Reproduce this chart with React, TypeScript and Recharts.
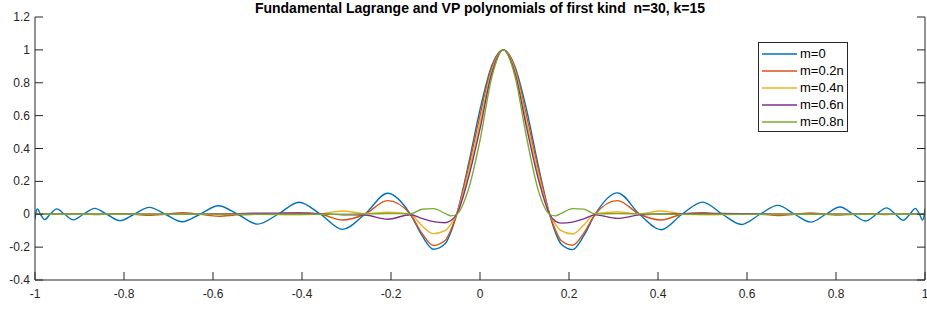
import React from "react";
import { LineChart, Line, XAxis, YAxis, Legend } from "recharts";

// x positions (Chebyshev nodes and the points between them)
const xs = [
  -1.0, -0.9986, -0.9945, -0.9877, -0.9781, -0.9659, -0.9511, -0.9336, -0.9135, -0.891,
  -0.866, -0.8387, -0.809, -0.7771, -0.7431, -0.7071, -0.6691, -0.6293, -0.5878, -0.5446,
  -0.5, -0.454, -0.4067, -0.3584, -0.309, -0.2588, -0.2079, -0.1564, -0.1305, -0.1045,
  -0.0785, -0.0654, -0.0523, -0.0262, 0, 0.0262, 0.0523, 0.0785, 0.1045, 0.1305,
  0.1564, 0.1693, 0.1822, 0.2079, 0.2334, 0.2588, 0.309, 0.3584, 0.4067, 0.454,
  0.5, 0.5446, 0.5878, 0.6293, 0.6691, 0.7071, 0.7431, 0.7771, 0.809, 0.8387,
  0.866, 0.891, 0.9135, 0.9336, 0.9511, 0.9659, 0.9781, 0.9877, 0.9945, 0.9986, 1.0,
];

const m0 = [
  -0.032, 0, 0.032, 0, -0.032, 0, 0.033, 0, -0.034, 0,
  0.036, 0, -0.039, 0, 0.042, 0, -0.046, 0, 0.052, 0,
  -0.06, 0, 0.073, 0, -0.092, 0, 0.128, 0, -0.129, -0.213,
  -0.18, -0.108, 0, 0.3, 0.637, 0.902, 1, 0.899, 0.638, 0.301,
  0, -0.109, -0.181, -0.215, -0.13, 0, 0.13, 0, -0.094, 0,
  0.074, 0, -0.062, 0, 0.054, 0, -0.048, 0, 0.044, 0,
  -0.041, 0, 0.039, 0, -0.037, 0, 0.036, 0, -0.035, 0, 0.035,
];

const m02 = [
  0, 0, 0, 0, 0, 0, 0, 0, 0, 0,
  -0.002, 0, 0.003, 0, -0.006, 0, 0.01, 0, -0.012, -0.004,
  0, 0.002, 0.008, 0, -0.035, 0, 0.083, 0, -0.115, -0.19,
  -0.16, -0.095, 0, 0.28, 0.6, 0.89, 1, 0.89, 0.6, 0.28,
  0, -0.095, -0.16, -0.189, -0.115, 0, 0.083, 0, -0.035, 0,
  0.01, 0, 0, 0, -0.008, 0, 0.008, 0, -0.005, 0,
  0.003, 0, -0.002, 0, 0, 0, 0, 0, 0, 0, 0,
];

const m04 = [
  0, 0, 0, 0, 0, 0, 0, 0, 0, 0,
  0, 0, 0, 0, 0, 0, 0, 0, 0, 0,
  0, -0.002, -0.004, 0.002, 0.02, 0.005, 0.012, 0, -0.07, -0.118,
  -0.1, -0.06, 0, 0.25, 0.56, 0.87, 1, 0.875, 0.565, 0.25,
  0, -0.06, -0.1, -0.12, -0.065, 0.004, 0.014, 0.003, 0.02, 0.002,
  -0.004, -0.002, 0, 0, 0, 0, 0, 0, 0, 0,
  0, 0, 0, 0, 0, 0, 0, 0, 0, 0, 0,
];

const m06 = [
  0, 0, 0, 0, 0, 0, 0, 0, 0, 0,
  0, 0, 0, 0, 0, 0, 0, 0, 0.002, 0.004,
  0.006, 0.007, 0.008, 0.003, -0.003, -0.005, -0.03, -0.003, -0.025, -0.045,
  -0.052, -0.038, 0, 0.22, 0.52, 0.855, 1, 0.86, 0.53, 0.22,
  0, -0.042, -0.054, -0.048, -0.028, -0.004, -0.025, -0.004, 0.002, 0.004,
  0.005, 0.005, 0.004, 0.002, 0, 0, 0, 0, 0, 0,
  0, 0, 0, 0, 0, 0, 0, 0, 0, 0, 0,
];

const m08 = [
  0, 0, 0, 0, 0, 0, 0, 0, 0, 0,
  0, 0, 0, 0, 0, 0, 0, 0, 0, 0,
  0, 0, 0, 0, 0, 0.002, 0.005, 0.003, 0.03, 0.034,
  0.005, -0.01, 0, 0.15, 0.45, 0.83, 1, 0.84, 0.47, 0.15,
  0, -0.01, 0.005, 0.034, 0.031, 0.002, 0.004, 0.002, 0, 0,
  0, 0, 0, 0, 0, 0, 0, 0, 0, 0,
  0, 0, 0, 0, 0, 0, 0, 0, 0, 0, 0,
];

const xTicks = [-1, -0.8, -0.6, -0.4, -0.2, 0, 0.2, 0.4, 0.6, 0.8, 1];
const yTicks = [-0.4, -0.2, 0, 0.2, 0.4, 0.6, 0.8, 1, 1.2];
const seriesNames = ["m=0", "m=0.2n", "m=0.4n", "m=0.6n", "m=0.8n"];
const title = "Fundamental Lagrange and VP polynomials of first kind  n=30, k=15";

const seriesKeys = ["m0", "m02", "m04", "m06", "m08"];
const seriesValues = [m0, m02, m04, m06, m08];
const colors = ["#0072BD", "#D95319", "#EDB120", "#7E2F8E", "#77AC30"];

const data = xs.map((x, i) => {
  const row: Record<string, number> = { x };
  seriesKeys.forEach((k, j) => {
    row[k] = seriesValues[j][i];
  });
  return row;
});

const AXIS = "#262626";
const FONT = "'Liberation Sans', Arial, Helvetica, sans-serif";
const TICK_LEN = 8;

const BottomTick = ({ x, y, payload }: any) => (
  <g>
    <line x1={x} y1={y} x2={x} y2={y - TICK_LEN} stroke={AXIS} />
    <text x={x} y={y + 18} textAnchor="middle" fill={AXIS} fontSize={12}>
      {String(payload.value)}
    </text>
  </g>
);

const TopTick = ({ x, y }: any) => (
  <line x1={x} y1={y} x2={x} y2={y + TICK_LEN} stroke={AXIS} />
);

const LeftTick = ({ x, y, payload }: any) => (
  <g>
    <line x1={x} y1={y} x2={x + TICK_LEN} y2={y} stroke={AXIS} />
    <text x={x - 5} y={y + 4} textAnchor="end" fill={AXIS} fontSize={12}>
      {String(payload.value)}
    </text>
  </g>
);

const RightTick = ({ x, y }: any) => (
  <line x1={x} y1={y} x2={x - TICK_LEN} y2={y} stroke={AXIS} />
);

const LegendBox = ({ payload }: any) => (
  <div
    style={{
      border: `1px solid ${AXIS}`,
      background: "#fff",
      width: 88,
      padding: "2px 0 1px 0",
      fontFamily: FONT,
      fontSize: 13,
      color: "#000",
    }}
  >
    {(payload || []).map((p: any) => (
      <div key={p.value} style={{ display: "flex", alignItems: "center", height: 17 }}>
        <span
          style={{
            display: "inline-block",
            width: 35,
            height: 2,
            background: p.color,
            opacity: 0.75,
            marginLeft: 3,
            marginRight: 3,
          }}
        />
        <span>{p.value}</span>
      </div>
    ))}
  </div>
);

export default function App() {
  return (
    <div style={{ position: "relative", width: 927, height: 309, background: "#fff" }}>
      <style>{"body{margin:0}"}</style>
      <div
        style={{
          position: "absolute",
          top: 0,
          left: 35,
          width: 890,
          textAlign: "center",
          fontFamily: FONT,
          fontWeight: "bold",
          fontSize: 14,
          lineHeight: "normal",
          whiteSpace: "pre",
          color: "#000",
        }}
      >
        {title}
      </div>
      <LineChart
        width={927}
        height={309}
        data={data}
        margin={{ top: 17, right: 0, bottom: 0, left: 0 }}
        style={{ fontFamily: FONT }}
      >
        <XAxis
          dataKey="x"
          type="number"
          domain={[-1, 1]}
          ticks={xTicks}
          interval={0}
          height={29}
          tickSize={0}
          tickMargin={0}
          tickLine={false}
          axisLine={{ stroke: AXIS }}
          tick={<BottomTick />}
          allowDataOverflow
        />
        <XAxis
          xAxisId="top"
          orientation="top"
          dataKey="x"
          type="number"
          domain={[-1, 1]}
          ticks={xTicks}
          interval={0}
          height={0}
          tickSize={0}
          tickMargin={0}
          tickLine={false}
          axisLine={{ stroke: AXIS }}
          tick={<TopTick />}
          allowDataOverflow
        />
        <YAxis
          type="number"
          domain={[-0.4, 1.2]}
          ticks={yTicks}
          interval={0}
          width={35}
          tickSize={0}
          tickMargin={0}
          tickLine={false}
          axisLine={{ stroke: AXIS }}
          tick={<LeftTick />}
          allowDataOverflow
        />
        <YAxis
          yAxisId="right"
          orientation="right"
          type="number"
          domain={[-0.4, 1.2]}
          ticks={yTicks}
          interval={0}
          width={2}
          tickSize={0}
          tickMargin={0}
          tickLine={false}
          axisLine={{ stroke: AXIS }}
          tick={<RightTick />}
          allowDataOverflow
        />
        <Legend
          layout="vertical"
          align="center"
          verticalAlign="middle"
          content={<LegendBox />}
          wrapperStyle={{ left: 758, top: 42, width: "auto" }}
        />
        {seriesKeys.map((k, i) => (
          <Line
            key={k}
            dataKey={k}
            name={seriesNames[i]}
            type="monotone"
            stroke={colors[i]}
            strokeWidth={1.4}
            dot={false}
            activeDot={false}
            isAnimationActive={false}
          />
        ))}
      </LineChart>
    </div>
  );
}
